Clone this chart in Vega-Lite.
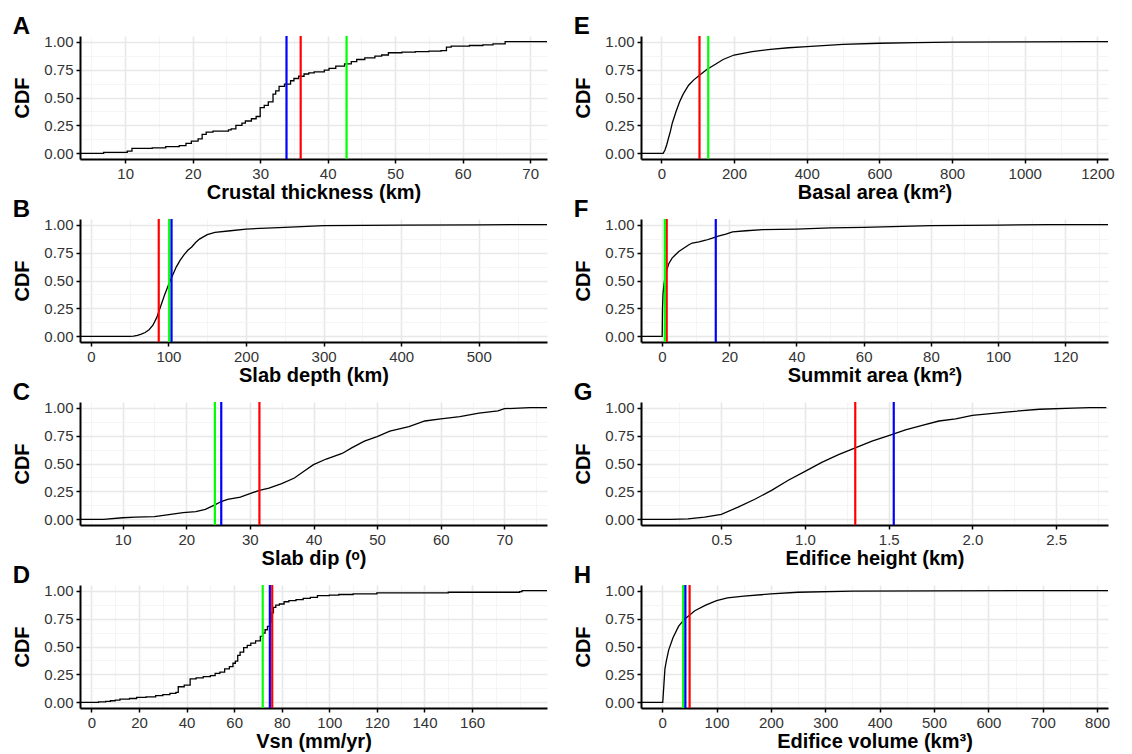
{
  "$schema": "https://vega.github.io/schema/vega-lite/v6.json",
  "padding": {"left": 12, "top": 14, "right": 5, "bottom": 2},
  "background": "white",
  "datasets": {
    "cdf": [
      {"panel":"A","x":3.3,"y":0},{"panel":"A","x":6.8,"y":0.01},{"panel":"A","x":10.3,"y":0.02},{"panel":"A","x":11,"y":0.045},{"panel":"A","x":14,"y":0.05},{"panel":"A","x":16,"y":0.06},{"panel":"A","x":18,"y":0.07},{"panel":"A","x":19,"y":0.09},{"panel":"A","x":19.8,"y":0.11},{"panel":"A","x":20.8,"y":0.13},{"panel":"A","x":21.4,"y":0.17},{"panel":"A","x":22,"y":0.19},{"panel":"A","x":23,"y":0.2},{"panel":"A","x":25.3,"y":0.21},{"panel":"A","x":25.7,"y":0.22},{"panel":"A","x":26.4,"y":0.25},{"panel":"A","x":27.3,"y":0.27},{"panel":"A","x":27.8,"y":0.29},{"panel":"A","x":28.7,"y":0.31},{"panel":"A","x":29.4,"y":0.33},{"panel":"A","x":30,"y":0.41},{"panel":"A","x":30.6,"y":0.43},{"panel":"A","x":31.2,"y":0.46},{"panel":"A","x":31.9,"y":0.53},{"panel":"A","x":32.3,"y":0.56},{"panel":"A","x":32.8,"y":0.6},{"panel":"A","x":33.6,"y":0.62},{"panel":"A","x":34.5,"y":0.65},{"panel":"A","x":35,"y":0.67},{"panel":"A","x":35.7,"y":0.69},{"panel":"A","x":36.5,"y":0.71},{"panel":"A","x":37.2,"y":0.72},{"panel":"A","x":38,"y":0.73},{"panel":"A","x":39.5,"y":0.745},{"panel":"A","x":40.2,"y":0.76},{"panel":"A","x":41.2,"y":0.78},{"panel":"A","x":42.5,"y":0.8},{"panel":"A","x":43.5,"y":0.82},{"panel":"A","x":44.3,"y":0.84},{"panel":"A","x":45.5,"y":0.855},{"panel":"A","x":47,"y":0.87},{"panel":"A","x":48,"y":0.88},{"panel":"A","x":49,"y":0.9},{"panel":"A","x":51,"y":0.905},{"panel":"A","x":53,"y":0.91},{"panel":"A","x":55,"y":0.915},{"panel":"A","x":56.8,"y":0.92},{"panel":"A","x":57.6,"y":0.95},{"panel":"A","x":58.3,"y":0.96},{"panel":"A","x":61,"y":0.965},{"panel":"A","x":63,"y":0.97},{"panel":"A","x":64.5,"y":0.98},{"panel":"A","x":66.3,"y":1},{"panel":"A","x":72.5,"y":1},

      {"panel":"B","x":-14,"y":0},{"panel":"B","x":50,"y":0},{"panel":"B","x":55,"y":0.003},{"panel":"B","x":60,"y":0.01},{"panel":"B","x":65,"y":0.02},{"panel":"B","x":70,"y":0.035},{"panel":"B","x":75,"y":0.06},{"panel":"B","x":80,"y":0.1},{"panel":"B","x":85,"y":0.17},{"panel":"B","x":90,"y":0.27},{"panel":"B","x":95,"y":0.37},{"panel":"B","x":100,"y":0.46},{"panel":"B","x":105,"y":0.54},{"panel":"B","x":110,"y":0.62},{"panel":"B","x":115,"y":0.68},{"panel":"B","x":120,"y":0.73},{"panel":"B","x":125,"y":0.77},{"panel":"B","x":130,"y":0.8},{"panel":"B","x":135,"y":0.84},{"panel":"B","x":140,"y":0.87},{"panel":"B","x":145,"y":0.89},{"panel":"B","x":150,"y":0.91},{"panel":"B","x":160,"y":0.93},{"panel":"B","x":180,"y":0.945},{"panel":"B","x":200,"y":0.96},{"panel":"B","x":250,"y":0.975},{"panel":"B","x":300,"y":0.99},{"panel":"B","x":400,"y":0.995},{"panel":"B","x":500,"y":0.998},{"panel":"B","x":560,"y":1},{"panel":"B","x":588,"y":1},

      {"panel":"C","x":3.3,"y":0},{"panel":"C","x":7,"y":0},{"panel":"C","x":10,"y":0.015},{"panel":"C","x":12,"y":0.02},{"panel":"C","x":15,"y":0.025},{"panel":"C","x":17,"y":0.04},{"panel":"C","x":19.5,"y":0.06},{"panel":"C","x":21.5,"y":0.07},{"panel":"C","x":23,"y":0.09},{"panel":"C","x":24.5,"y":0.13},{"panel":"C","x":25.5,"y":0.16},{"panel":"C","x":26.5,"y":0.18},{"panel":"C","x":28.5,"y":0.2},{"panel":"C","x":30,"y":0.23},{"panel":"C","x":31.5,"y":0.26},{"panel":"C","x":33,"y":0.28},{"panel":"C","x":35,"y":0.32},{"panel":"C","x":37,"y":0.37},{"panel":"C","x":38.5,"y":0.43},{"panel":"C","x":40,"y":0.49},{"panel":"C","x":42,"y":0.54},{"panel":"C","x":44.5,"y":0.59},{"panel":"C","x":46,"y":0.64},{"panel":"C","x":48,"y":0.7},{"panel":"C","x":50,"y":0.74},{"panel":"C","x":52,"y":0.79},{"panel":"C","x":55,"y":0.83},{"panel":"C","x":57.5,"y":0.88},{"panel":"C","x":60,"y":0.9},{"panel":"C","x":63,"y":0.92},{"panel":"C","x":66,"y":0.95},{"panel":"C","x":69,"y":0.97},{"panel":"C","x":70,"y":0.99},{"panel":"C","x":74,"y":1},{"panel":"C","x":76.7,"y":1},

      {"panel":"D","x":-4.8,"y":0},{"panel":"D","x":3,"y":0.005},{"panel":"D","x":6,"y":0.01},{"panel":"D","x":8,"y":0.015},{"panel":"D","x":10,"y":0.02},{"panel":"D","x":12,"y":0.03},{"panel":"D","x":16,"y":0.035},{"panel":"D","x":19,"y":0.045},{"panel":"D","x":23,"y":0.05},{"panel":"D","x":27,"y":0.06},{"panel":"D","x":30,"y":0.07},{"panel":"D","x":33,"y":0.08},{"panel":"D","x":35.5,"y":0.09},{"panel":"D","x":36.5,"y":0.14},{"panel":"D","x":39,"y":0.155},{"panel":"D","x":41.5,"y":0.21},{"panel":"D","x":44,"y":0.22},{"panel":"D","x":47,"y":0.23},{"panel":"D","x":50,"y":0.24},{"panel":"D","x":52,"y":0.26},{"panel":"D","x":54,"y":0.27},{"panel":"D","x":56,"y":0.3},{"panel":"D","x":58,"y":0.32},{"panel":"D","x":59.5,"y":0.35},{"panel":"D","x":60.5,"y":0.37},{"panel":"D","x":61.5,"y":0.42},{"panel":"D","x":62.5,"y":0.45},{"panel":"D","x":64,"y":0.49},{"panel":"D","x":65.5,"y":0.51},{"panel":"D","x":67,"y":0.53},{"panel":"D","x":69,"y":0.55},{"panel":"D","x":71,"y":0.59},{"panel":"D","x":72,"y":0.62},{"panel":"D","x":73,"y":0.65},{"panel":"D","x":74,"y":0.68},{"panel":"D","x":75,"y":0.72},{"panel":"D","x":75.8,"y":0.8},{"panel":"D","x":76.5,"y":0.85},{"panel":"D","x":77.5,"y":0.87},{"panel":"D","x":79,"y":0.88},{"panel":"D","x":81,"y":0.9},{"panel":"D","x":83,"y":0.91},{"panel":"D","x":86,"y":0.92},{"panel":"D","x":89,"y":0.93},{"panel":"D","x":92,"y":0.94},{"panel":"D","x":95,"y":0.955},{"panel":"D","x":100,"y":0.96},{"panel":"D","x":104,"y":0.965},{"panel":"D","x":110,"y":0.97},{"panel":"D","x":120,"y":0.98},{"panel":"D","x":150,"y":0.985},{"panel":"D","x":180,"y":0.99},{"panel":"D","x":181,"y":1},{"panel":"D","x":191.5,"y":1},

      {"panel":"E","x":-56,"y":0},{"panel":"E","x":5,"y":0},{"panel":"E","x":10,"y":0.03},{"panel":"E","x":15,"y":0.08},{"panel":"E","x":20,"y":0.14},{"panel":"E","x":25,"y":0.2},{"panel":"E","x":30,"y":0.27},{"panel":"E","x":40,"y":0.37},{"panel":"E","x":50,"y":0.46},{"panel":"E","x":60,"y":0.53},{"panel":"E","x":75,"y":0.61},{"panel":"E","x":90,"y":0.66},{"panel":"E","x":105,"y":0.7},{"panel":"E","x":125,"y":0.75},{"panel":"E","x":150,"y":0.8},{"panel":"E","x":170,"y":0.84},{"panel":"E","x":200,"y":0.88},{"panel":"E","x":250,"y":0.91},{"panel":"E","x":300,"y":0.93},{"panel":"E","x":350,"y":0.945},{"panel":"E","x":400,"y":0.955},{"panel":"E","x":500,"y":0.975},{"panel":"E","x":600,"y":0.985},{"panel":"E","x":700,"y":0.99},{"panel":"E","x":800,"y":0.995},{"panel":"E","x":1000,"y":0.998},{"panel":"E","x":1170,"y":1},{"panel":"E","x":1229,"y":1},

      {"panel":"F","x":-6.25,"y":0},{"panel":"F","x":0.05,"y":0},{"panel":"F","x":0.15,"y":0.25},{"panel":"F","x":0.3,"y":0.38},{"panel":"F","x":0.6,"y":0.47},{"panel":"F","x":1,"y":0.55},{"panel":"F","x":1.5,"y":0.6},{"panel":"F","x":2,"y":0.65},{"panel":"F","x":3,"y":0.7},{"panel":"F","x":4,"y":0.73},{"panel":"F","x":5,"y":0.76},{"panel":"F","x":6,"y":0.78},{"panel":"F","x":7,"y":0.8},{"panel":"F","x":8,"y":0.82},{"panel":"F","x":9,"y":0.835},{"panel":"F","x":11,"y":0.845},{"panel":"F","x":13,"y":0.86},{"panel":"F","x":15,"y":0.88},{"panel":"F","x":17,"y":0.9},{"panel":"F","x":19,"y":0.915},{"panel":"F","x":21,"y":0.935},{"panel":"F","x":25,"y":0.945},{"panel":"F","x":30,"y":0.955},{"panel":"F","x":40,"y":0.96},{"panel":"F","x":50,"y":0.97},{"panel":"F","x":60,"y":0.975},{"panel":"F","x":80,"y":0.99},{"panel":"F","x":100,"y":0.995},{"panel":"F","x":115,"y":1},{"panel":"F","x":132.7,"y":1},

      {"panel":"G","x":0.02,"y":0},{"panel":"G","x":0.2,"y":0},{"panel":"G","x":0.3,"y":0.005},{"panel":"G","x":0.4,"y":0.02},{"panel":"G","x":0.5,"y":0.045},{"panel":"G","x":0.6,"y":0.11},{"panel":"G","x":0.7,"y":0.18},{"panel":"G","x":0.8,"y":0.26},{"panel":"G","x":0.9,"y":0.35},{"panel":"G","x":1.0,"y":0.43},{"panel":"G","x":1.1,"y":0.51},{"panel":"G","x":1.2,"y":0.58},{"panel":"G","x":1.3,"y":0.64},{"panel":"G","x":1.4,"y":0.7},{"panel":"G","x":1.5,"y":0.75},{"panel":"G","x":1.6,"y":0.8},{"panel":"G","x":1.7,"y":0.84},{"panel":"G","x":1.8,"y":0.88},{"panel":"G","x":1.9,"y":0.9},{"panel":"G","x":2.0,"y":0.93},{"panel":"G","x":2.2,"y":0.96},{"panel":"G","x":2.4,"y":0.985},{"panel":"G","x":2.6,"y":0.995},{"panel":"G","x":2.7,"y":1},{"panel":"G","x":2.8,"y":1},

      {"panel":"H","x":-39,"y":0},{"panel":"H","x":1,"y":0},{"panel":"H","x":3,"y":0.15},{"panel":"H","x":5,"y":0.3},{"panel":"H","x":8,"y":0.38},{"panel":"H","x":12,"y":0.47},{"panel":"H","x":20,"y":0.58},{"panel":"H","x":30,"y":0.68},{"panel":"H","x":40,"y":0.74},{"panel":"H","x":50,"y":0.78},{"panel":"H","x":60,"y":0.82},{"panel":"H","x":80,"y":0.87},{"panel":"H","x":100,"y":0.91},{"panel":"H","x":120,"y":0.935},{"panel":"H","x":150,"y":0.95},{"panel":"H","x":200,"y":0.97},{"panel":"H","x":250,"y":0.985},{"panel":"H","x":350,"y":0.995},{"panel":"H","x":500,"y":0.998},{"panel":"H","x":780,"y":1},{"panel":"H","x":820,"y":1}
    ],
    "vlines": [
      {"panel":"A","group":"G1","x":36},{"panel":"A","group":"G2","x":42.8},{"panel":"A","group":"G3","x":33.9},
      {"panel":"B","group":"G1","x":87.5},{"panel":"B","group":"G2","x":101},{"panel":"B","group":"G3","x":104},
      {"panel":"C","group":"G1","x":31.5},{"panel":"C","group":"G2","x":24.5},{"panel":"C","group":"G3","x":25.5},
      {"panel":"D","group":"G1","x":76},{"panel":"D","group":"G2","x":72},{"panel":"D","group":"G3","x":75},
      {"panel":"E","group":"G1","x":105},{"panel":"E","group":"G2","x":129},
      {"panel":"F","group":"G1","x":1.4},{"panel":"F","group":"G2","x":0.85},{"panel":"F","group":"G3","x":16},
      {"panel":"G","group":"G1","x":1.3},{"panel":"G","group":"G3","x":1.53},
      {"panel":"H","group":"G1","x":50.4},{"panel":"H","group":"G2","x":38.6},{"panel":"H","group":"G3","x":42.6}
    ]
  },
  "spacing": -5,
  "vconcat": [
    {"spacing": 26, "hconcat": [
      {"title": "A", "width": 467, "height": 123, "layer": [
        {"data": {"name": "cdf"}, "transform": [{"filter": "datum.panel === 'A'"}],
         "mark": {"type": "line", "interpolate": "step-after", "color": "black", "strokeWidth": 1.3, "clip": true},
         "encoding": {
           "x": {"field": "x", "type": "quantitative", "title": "Crustal thickness (km)", "scale": {"domain": [3.3, 72.5], "nice": false, "zero": false},
                 "axis": {"tickCount": 100, "values": [5,10,15,20,25,30,35,40,45,50,55,60,65,70], "labelExpr": "datum.value % 10 === 0 ? format(datum.value, 'd') : ''",
                          "gridWidth": {"condition": {"test": "datum.value % 10 === 0", "value": 1.6}, "value": 0.8},
                          "gridColor": {"condition": {"test": "datum.value % 10 === 0", "value": "#E8E8E8"}, "value": "#F2F2F2"},
                          "tickOpacity": {"condition": {"test": "datum.value % 10 === 0", "value": 1}, "value": 0}}},
           "y": {"field": "y", "type": "quantitative", "title": "CDF", "scale": {"domain": [-0.05, 1.05], "nice": false, "zero": false},
                 "axis": {"tickCount": 100, "values": [0,0.125,0.25,0.375,0.5,0.625,0.75,0.875,1], "labelExpr": "datum.value % 0.25 === 0 ? format(datum.value, '.2f') : ''",
                          "gridWidth": {"condition": {"test": "datum.value % 0.25 === 0", "value": 1.6}, "value": 0.8},
                          "gridColor": {"condition": {"test": "datum.value % 0.25 === 0", "value": "#E8E8E8"}, "value": "#F2F2F2"},
                          "tickOpacity": {"condition": {"test": "datum.value % 0.25 === 0", "value": 1}, "value": 0}}}
         }},
        {"data": {"name": "vlines"}, "transform": [{"filter": "datum.panel === 'A'"}],
         "mark": {"type": "rule", "strokeWidth": 2.2},
         "encoding": {"x": {"field": "x", "type": "quantitative"},
                      "color": {"field": "group", "type": "nominal", "scale": {"domain": ["G1","G2","G3"], "range": ["#FF0000","#00FF00","#0000FF"]}, "legend": null}}}
      ]},
      {"title": "E", "width": 467, "height": 123, "layer": [
        {"data": {"name": "cdf"}, "transform": [{"filter": "datum.panel === 'E'"}],
         "mark": {"type": "line", "color": "black", "strokeWidth": 1.3, "clip": true},
         "encoding": {
           "x": {"field": "x", "type": "quantitative", "title": "Basal area (km²)", "scale": {"domain": [-56, 1229], "nice": false, "zero": false},
                 "axis": {"tickCount": 100, "values": [0,100,200,300,400,500,600,700,800,900,1000,1100,1200], "labelExpr": "datum.value % 200 === 0 ? format(datum.value, 'd') : ''",
                          "gridWidth": {"condition": {"test": "datum.value % 200 === 0", "value": 1.6}, "value": 0.8},
                          "gridColor": {"condition": {"test": "datum.value % 200 === 0", "value": "#E8E8E8"}, "value": "#F2F2F2"},
                          "tickOpacity": {"condition": {"test": "datum.value % 200 === 0", "value": 1}, "value": 0}}},
           "y": {"field": "y", "type": "quantitative", "title": "CDF", "scale": {"domain": [-0.05, 1.05], "nice": false, "zero": false},
                 "axis": {"tickCount": 100, "values": [0,0.125,0.25,0.375,0.5,0.625,0.75,0.875,1], "labelExpr": "datum.value % 0.25 === 0 ? format(datum.value, '.2f') : ''",
                          "gridWidth": {"condition": {"test": "datum.value % 0.25 === 0", "value": 1.6}, "value": 0.8},
                          "gridColor": {"condition": {"test": "datum.value % 0.25 === 0", "value": "#E8E8E8"}, "value": "#F2F2F2"},
                          "tickOpacity": {"condition": {"test": "datum.value % 0.25 === 0", "value": 1}, "value": 0}}}
         }},
        {"data": {"name": "vlines"}, "transform": [{"filter": "datum.panel === 'E'"}],
         "mark": {"type": "rule", "strokeWidth": 2.2},
         "encoding": {"x": {"field": "x", "type": "quantitative"},
                      "color": {"field": "group", "type": "nominal", "scale": {"domain": ["G1","G2","G3"], "range": ["#FF0000","#00FF00","#0000FF"]}, "legend": null}}}
      ]}
    ]},
    {"spacing": 26, "hconcat": [
      {"title": "B", "width": 467, "height": 123, "layer": [
        {"data": {"name": "cdf"}, "transform": [{"filter": "datum.panel === 'B'"}],
         "mark": {"type": "line", "color": "black", "strokeWidth": 1.3, "clip": true},
         "encoding": {
           "x": {"field": "x", "type": "quantitative", "title": "Slab depth (km)", "scale": {"domain": [-14, 588], "nice": false, "zero": false},
                 "axis": {"tickCount": 100, "values": [0,50,100,150,200,250,300,350,400,450,500,550], "labelExpr": "datum.value % 100 === 0 ? format(datum.value, 'd') : ''",
                          "gridWidth": {"condition": {"test": "datum.value % 100 === 0", "value": 1.6}, "value": 0.8},
                          "gridColor": {"condition": {"test": "datum.value % 100 === 0", "value": "#E8E8E8"}, "value": "#F2F2F2"},
                          "tickOpacity": {"condition": {"test": "datum.value % 100 === 0", "value": 1}, "value": 0}}},
           "y": {"field": "y", "type": "quantitative", "title": "CDF", "scale": {"domain": [-0.05, 1.05], "nice": false, "zero": false},
                 "axis": {"tickCount": 100, "values": [0,0.125,0.25,0.375,0.5,0.625,0.75,0.875,1], "labelExpr": "datum.value % 0.25 === 0 ? format(datum.value, '.2f') : ''",
                          "gridWidth": {"condition": {"test": "datum.value % 0.25 === 0", "value": 1.6}, "value": 0.8},
                          "gridColor": {"condition": {"test": "datum.value % 0.25 === 0", "value": "#E8E8E8"}, "value": "#F2F2F2"},
                          "tickOpacity": {"condition": {"test": "datum.value % 0.25 === 0", "value": 1}, "value": 0}}}
         }},
        {"data": {"name": "vlines"}, "transform": [{"filter": "datum.panel === 'B'"}],
         "mark": {"type": "rule", "strokeWidth": 2.2},
         "encoding": {"x": {"field": "x", "type": "quantitative"},
                      "color": {"field": "group", "type": "nominal", "scale": {"domain": ["G1","G2","G3"], "range": ["#FF0000","#00FF00","#0000FF"]}, "legend": null}}}
      ]},
      {"title": "F", "width": 467, "height": 123, "layer": [
        {"data": {"name": "cdf"}, "transform": [{"filter": "datum.panel === 'F'"}],
         "mark": {"type": "line", "color": "black", "strokeWidth": 1.3, "clip": true},
         "encoding": {
           "x": {"field": "x", "type": "quantitative", "title": "Summit area (km²)", "scale": {"domain": [-6.25, 132.7], "nice": false, "zero": false},
                 "axis": {"tickCount": 100, "values": [0,10,20,30,40,50,60,70,80,90,100,110,120,130], "labelExpr": "datum.value % 20 === 0 ? format(datum.value, 'd') : ''",
                          "gridWidth": {"condition": {"test": "datum.value % 20 === 0", "value": 1.6}, "value": 0.8},
                          "gridColor": {"condition": {"test": "datum.value % 20 === 0", "value": "#E8E8E8"}, "value": "#F2F2F2"},
                          "tickOpacity": {"condition": {"test": "datum.value % 20 === 0", "value": 1}, "value": 0}}},
           "y": {"field": "y", "type": "quantitative", "title": "CDF", "scale": {"domain": [-0.05, 1.05], "nice": false, "zero": false},
                 "axis": {"tickCount": 100, "values": [0,0.125,0.25,0.375,0.5,0.625,0.75,0.875,1], "labelExpr": "datum.value % 0.25 === 0 ? format(datum.value, '.2f') : ''",
                          "gridWidth": {"condition": {"test": "datum.value % 0.25 === 0", "value": 1.6}, "value": 0.8},
                          "gridColor": {"condition": {"test": "datum.value % 0.25 === 0", "value": "#E8E8E8"}, "value": "#F2F2F2"},
                          "tickOpacity": {"condition": {"test": "datum.value % 0.25 === 0", "value": 1}, "value": 0}}}
         }},
        {"data": {"name": "vlines"}, "transform": [{"filter": "datum.panel === 'F'"}],
         "mark": {"type": "rule", "strokeWidth": 2.2},
         "encoding": {"x": {"field": "x", "type": "quantitative"},
                      "color": {"field": "group", "type": "nominal", "scale": {"domain": ["G1","G2","G3"], "range": ["#FF0000","#00FF00","#0000FF"]}, "legend": null}}}
      ]}
    ]},
    {"spacing": 26, "hconcat": [
      {"title": "C", "width": 467, "height": 123, "layer": [
        {"data": {"name": "cdf"}, "transform": [{"filter": "datum.panel === 'C'"}],
         "mark": {"type": "line", "color": "black", "strokeWidth": 1.3, "clip": true},
         "encoding": {
           "x": {"field": "x", "type": "quantitative", "title": "Slab dip (ᵒ)", "scale": {"domain": [3.3, 76.7], "nice": false, "zero": false},
                 "axis": {"tickCount": 100, "values": [5,10,15,20,25,30,35,40,45,50,55,60,65,70,75], "labelExpr": "datum.value % 10 === 0 ? format(datum.value, 'd') : ''",
                          "gridWidth": {"condition": {"test": "datum.value % 10 === 0", "value": 1.6}, "value": 0.8},
                          "gridColor": {"condition": {"test": "datum.value % 10 === 0", "value": "#E8E8E8"}, "value": "#F2F2F2"},
                          "tickOpacity": {"condition": {"test": "datum.value % 10 === 0", "value": 1}, "value": 0}}},
           "y": {"field": "y", "type": "quantitative", "title": "CDF", "scale": {"domain": [-0.05, 1.05], "nice": false, "zero": false},
                 "axis": {"tickCount": 100, "values": [0,0.125,0.25,0.375,0.5,0.625,0.75,0.875,1], "labelExpr": "datum.value % 0.25 === 0 ? format(datum.value, '.2f') : ''",
                          "gridWidth": {"condition": {"test": "datum.value % 0.25 === 0", "value": 1.6}, "value": 0.8},
                          "gridColor": {"condition": {"test": "datum.value % 0.25 === 0", "value": "#E8E8E8"}, "value": "#F2F2F2"},
                          "tickOpacity": {"condition": {"test": "datum.value % 0.25 === 0", "value": 1}, "value": 0}}}
         }},
        {"data": {"name": "vlines"}, "transform": [{"filter": "datum.panel === 'C'"}],
         "mark": {"type": "rule", "strokeWidth": 2.2},
         "encoding": {"x": {"field": "x", "type": "quantitative"},
                      "color": {"field": "group", "type": "nominal", "scale": {"domain": ["G1","G2","G3"], "range": ["#FF0000","#00FF00","#0000FF"]}, "legend": null}}}
      ]},
      {"title": "G", "width": 467, "height": 123, "layer": [
        {"data": {"name": "cdf"}, "transform": [{"filter": "datum.panel === 'G'"}],
         "mark": {"type": "line", "color": "black", "strokeWidth": 1.3, "clip": true},
         "encoding": {
           "x": {"field": "x", "type": "quantitative", "title": "Edifice height (km)", "scale": {"domain": [0.02, 2.81], "nice": false, "zero": false},
                 "axis": {"tickCount": 100, "values": [0.25,0.5,0.75,1,1.25,1.5,1.75,2,2.25,2.5,2.75], "labelExpr": "datum.value % 0.5 === 0 ? format(datum.value, '.1f') : ''",
                          "gridWidth": {"condition": {"test": "datum.value % 0.5 === 0", "value": 1.6}, "value": 0.8},
                          "gridColor": {"condition": {"test": "datum.value % 0.5 === 0", "value": "#E8E8E8"}, "value": "#F2F2F2"},
                          "tickOpacity": {"condition": {"test": "datum.value % 0.5 === 0", "value": 1}, "value": 0}}},
           "y": {"field": "y", "type": "quantitative", "title": "CDF", "scale": {"domain": [-0.05, 1.05], "nice": false, "zero": false},
                 "axis": {"tickCount": 100, "values": [0,0.125,0.25,0.375,0.5,0.625,0.75,0.875,1], "labelExpr": "datum.value % 0.25 === 0 ? format(datum.value, '.2f') : ''",
                          "gridWidth": {"condition": {"test": "datum.value % 0.25 === 0", "value": 1.6}, "value": 0.8},
                          "gridColor": {"condition": {"test": "datum.value % 0.25 === 0", "value": "#E8E8E8"}, "value": "#F2F2F2"},
                          "tickOpacity": {"condition": {"test": "datum.value % 0.25 === 0", "value": 1}, "value": 0}}}
         }},
        {"data": {"name": "vlines"}, "transform": [{"filter": "datum.panel === 'G'"}],
         "mark": {"type": "rule", "strokeWidth": 2.2},
         "encoding": {"x": {"field": "x", "type": "quantitative"},
                      "color": {"field": "group", "type": "nominal", "scale": {"domain": ["G1","G2","G3"], "range": ["#FF0000","#00FF00","#0000FF"]}, "legend": null}}}
      ]}
    ]},
    {"spacing": 26, "hconcat": [
      {"title": "D", "width": 467, "height": 123, "layer": [
        {"data": {"name": "cdf"}, "transform": [{"filter": "datum.panel === 'D'"}],
         "mark": {"type": "line", "interpolate": "step-after", "color": "black", "strokeWidth": 1.3, "clip": true},
         "encoding": {
           "x": {"field": "x", "type": "quantitative", "title": "Vsn (mm/yr)", "scale": {"domain": [-4.8, 191.5], "nice": false, "zero": false},
                 "axis": {"tickCount": 100, "values": [0,10,20,30,40,50,60,70,80,90,100,110,120,130,140,150,160,170,180], "labelExpr": "datum.value % 20 === 0 && datum.value <= 160 ? format(datum.value, 'd') : ''",
                          "gridWidth": {"condition": {"test": "datum.value % 20 === 0 && datum.value <= 160", "value": 1.6}, "value": 0.8},
                          "gridColor": {"condition": {"test": "datum.value % 20 === 0 && datum.value <= 160", "value": "#E8E8E8"}, "value": "#F2F2F2"},
                          "tickOpacity": {"condition": {"test": "datum.value % 20 === 0 && datum.value <= 160", "value": 1}, "value": 0}}},
           "y": {"field": "y", "type": "quantitative", "title": "CDF", "scale": {"domain": [-0.05, 1.05], "nice": false, "zero": false},
                 "axis": {"tickCount": 100, "values": [0,0.125,0.25,0.375,0.5,0.625,0.75,0.875,1], "labelExpr": "datum.value % 0.25 === 0 ? format(datum.value, '.2f') : ''",
                          "gridWidth": {"condition": {"test": "datum.value % 0.25 === 0", "value": 1.6}, "value": 0.8},
                          "gridColor": {"condition": {"test": "datum.value % 0.25 === 0", "value": "#E8E8E8"}, "value": "#F2F2F2"},
                          "tickOpacity": {"condition": {"test": "datum.value % 0.25 === 0", "value": 1}, "value": 0}}}
         }},
        {"data": {"name": "vlines"}, "transform": [{"filter": "datum.panel === 'D'"}],
         "mark": {"type": "rule", "strokeWidth": 2.2},
         "encoding": {"x": {"field": "x", "type": "quantitative"},
                      "color": {"field": "group", "type": "nominal", "scale": {"domain": ["G1","G2","G3"], "range": ["#FF0000","#00FF00","#0000FF"]}, "legend": null}}}
      ]},
      {"title": "H", "width": 467, "height": 123, "layer": [
        {"data": {"name": "cdf"}, "transform": [{"filter": "datum.panel === 'H'"}],
         "mark": {"type": "line", "color": "black", "strokeWidth": 1.3, "clip": true},
         "encoding": {
           "x": {"field": "x", "type": "quantitative", "title": "Edifice volume (km³)", "scale": {"domain": [-39, 820], "nice": false, "zero": false},
                 "axis": {"tickCount": 100, "values": [0,50,100,150,200,250,300,350,400,450,500,550,600,650,700,750,800], "labelExpr": "datum.value % 100 === 0 ? format(datum.value, 'd') : ''",
                          "gridWidth": {"condition": {"test": "datum.value % 100 === 0", "value": 1.6}, "value": 0.8},
                          "gridColor": {"condition": {"test": "datum.value % 100 === 0", "value": "#E8E8E8"}, "value": "#F2F2F2"},
                          "tickOpacity": {"condition": {"test": "datum.value % 100 === 0", "value": 1}, "value": 0}}},
           "y": {"field": "y", "type": "quantitative", "title": "CDF", "scale": {"domain": [-0.05, 1.05], "nice": false, "zero": false},
                 "axis": {"tickCount": 100, "values": [0,0.125,0.25,0.375,0.5,0.625,0.75,0.875,1], "labelExpr": "datum.value % 0.25 === 0 ? format(datum.value, '.2f') : ''",
                          "gridWidth": {"condition": {"test": "datum.value % 0.25 === 0", "value": 1.6}, "value": 0.8},
                          "gridColor": {"condition": {"test": "datum.value % 0.25 === 0", "value": "#E8E8E8"}, "value": "#F2F2F2"},
                          "tickOpacity": {"condition": {"test": "datum.value % 0.25 === 0", "value": 1}, "value": 0}}}
         }},
        {"data": {"name": "vlines"}, "transform": [{"filter": "datum.panel === 'H'"}],
         "mark": {"type": "rule", "strokeWidth": 2.2},
         "encoding": {"x": {"field": "x", "type": "quantitative"},
                      "color": {"field": "group", "type": "nominal", "scale": {"domain": ["G1","G2","G3"], "range": ["#FF0000","#00FF00","#0000FF"]}, "legend": null}}}
      ]}
    ]}
  ],
  "config": {
    "view": {"stroke": null},
    "font": "Liberation Sans",
    "axis": {"labelFont": "Liberation Sans", "labelFontSize": 15, "labelColor": "#333333", "titleFont": "Liberation Sans", "titleFontSize": 20, "titleFontWeight": "bold", "titleColor": "#000000",
             "domainColor": "#000000", "domainWidth": 2, "tickColor": "#000000", "tickWidth": 1.5, "tickSize": 4, "labelPadding": 3, "labelOverlap": false, "labelFlush": false},
    "axisX": {"titlePadding": 1},
    "axisY": {"titlePadding": 11},
    "title": {"font": "Liberation Sans", "fontSize": 24, "fontWeight": "bold", "anchor": "start", "frame": "bounds", "offset": -4, "baseline": "alphabetic", "color": "#000000"}
  }
}
